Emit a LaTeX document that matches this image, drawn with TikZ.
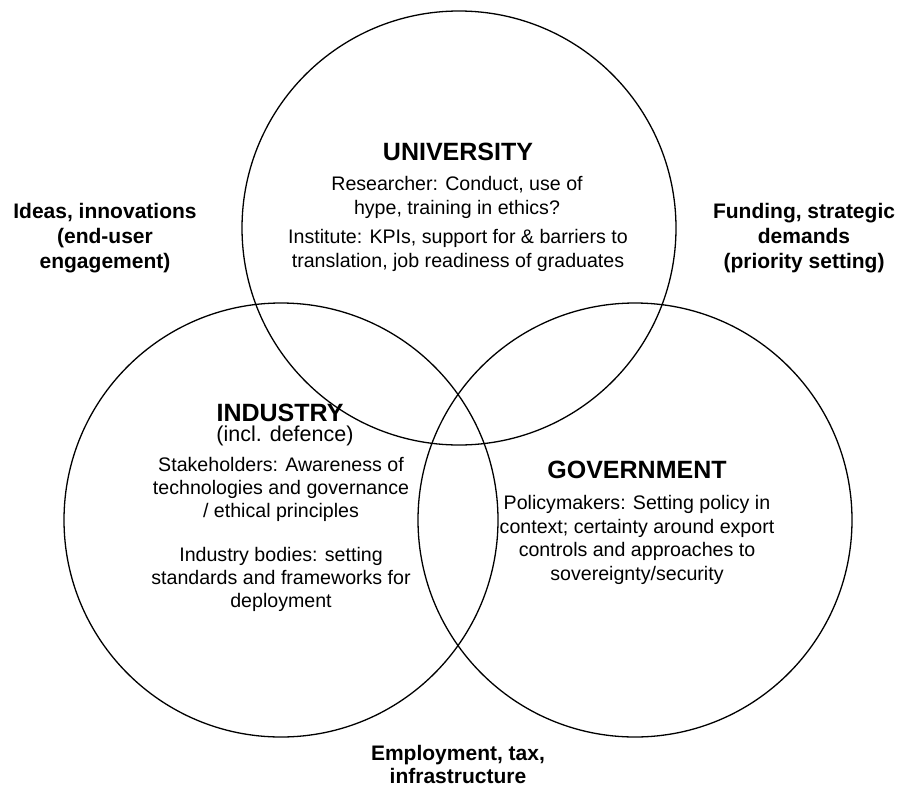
\documentclass[tikz,border=0pt]{standalone}
\usepackage{fontspec}
\setmainfont{Liberation Sans}

\tikzset{
  venn/.style={draw, circle, line width=1.3, minimum size=434pt, inner sep=0pt},
  head/.style={font=\fontsize{25}{30}\selectfont\bfseries, inner sep=0pt, anchor=base},
  body/.style={font=\fontsize{19.6}{23.5}\selectfont, align=center, inner sep=0pt, anchor=base},
  flow/.style={font=\fontsize{21}{25}\selectfont\bfseries, align=center, inner sep=0pt, anchor=base}
}

\begin{document}
\begin{tikzpicture}[x=1pt,y=1pt,yscale=-1,xscale=1]
\useasboundingbox (0,0) rectangle (901,787);

%Shape: Circle [univ]
\draw (459,228) node [venn] (univ) {};
%Shape: Circle [ind]
\draw (281,520) node [venn] (ind) {};
%Shape: Circle [gov]
\draw (635,520) node [venn] (gov) {};

% Text Node
\draw (458,160) node [head] (univHead) {UNIVERSITY};
% Text Node
\draw (457,214) node [body] (univRes) {Researcher: Conduct, use of\\hype, training in ethics?};
% Text Node
\draw (458,267) node [body] (univInst) {Institute: KPIs, support for \& barriers to\\translation, job readiness of graduates};

% Text Node
\draw (280,421) node [head] (indHead) {INDUSTRY};
% Text Node
\draw (285,441) node [body, font=\fontsize{21.5}{25}\selectfont] (indIncl) {(incl. defence)};
% Text Node
\draw (281,517) node [body, font=\fontsize{19.6}{22.7}\selectfont] (indStake) {Stakeholders: Awareness of\\technologies and governance\\/ ethical principles};
% Text Node
\draw (281,607) node [body, font=\fontsize{19.6}{22.7}\selectfont] (indBody) {Industry bodies: setting\\standards and frameworks for\\deployment};

% Text Node
\draw (637,478) node [head] (govHead) {GOVERNMENT};
% Text Node
\draw (637,580) node [body] (govPol) {Policymakers: Setting policy in\\context; certainty around export\\controls and approaches to\\sovereignty/security};

% Text Node
\draw (105,268) node [flow] (ideas) {Ideas, innovations\\(end-user\\engagement)};
% Text Node
\draw (804,268) node [flow] (funding) {Funding, strategic\\demands\\(priority setting)};
% Text Node
\draw (458,783) node [flow, font=\fontsize{21}{23}\selectfont\bfseries] (employ) {Employment, tax,\\infrastructure};

\end{tikzpicture}
\end{document}
